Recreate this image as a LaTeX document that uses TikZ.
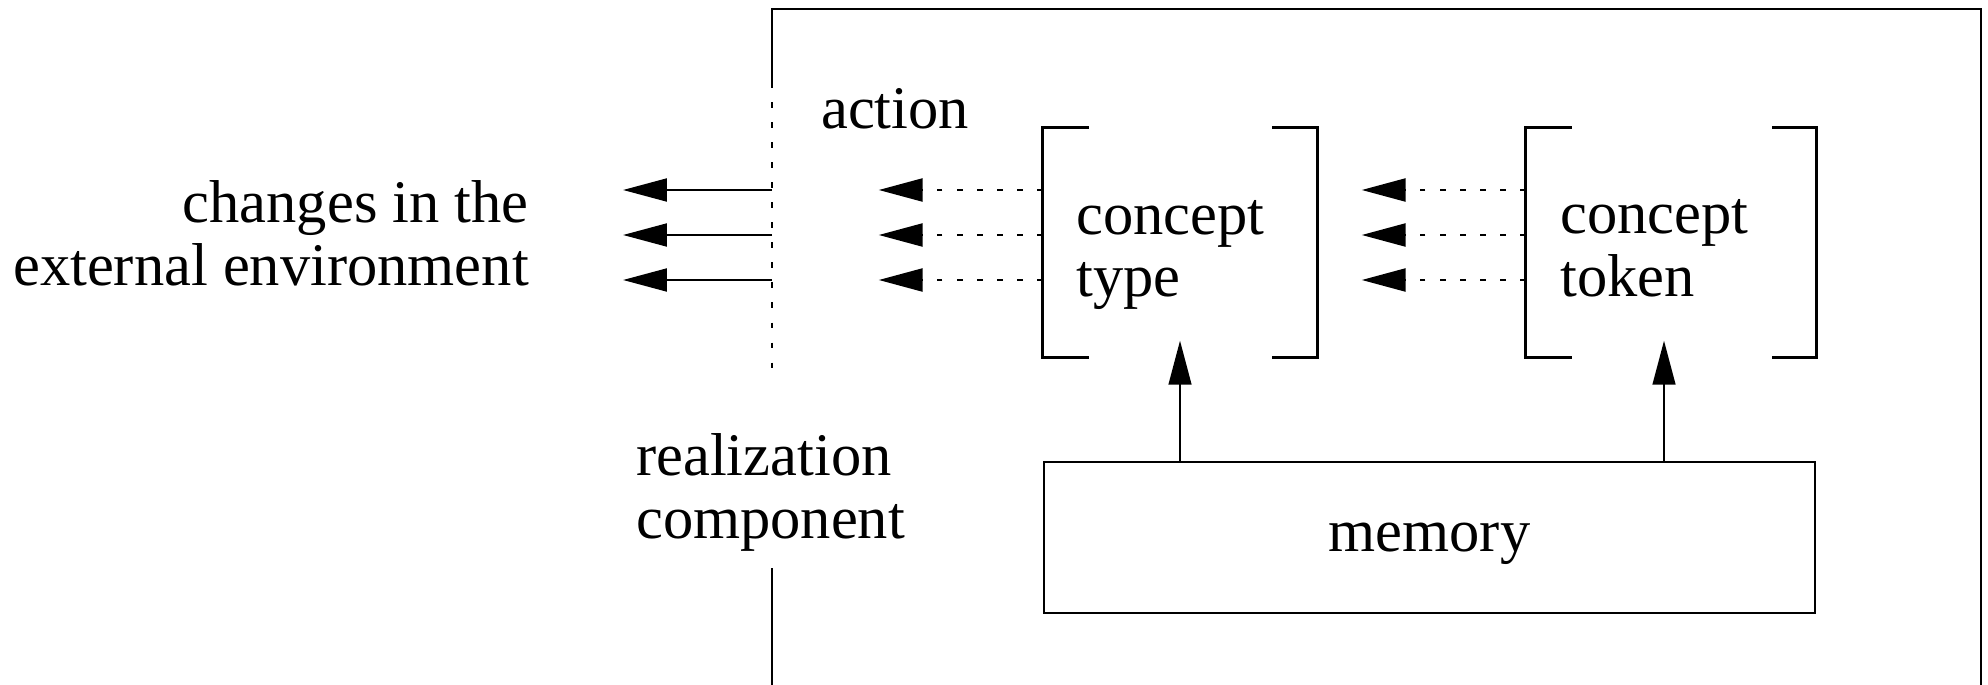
\documentclass[tikz,border=0pt]{standalone}
\usepackage{fontspec}
\setmainfont{Liberation Serif}
\usetikzlibrary{arrows.meta}

\tikzset{
  lbl/.style={inner sep=0pt, font=\fontsize{17.2}{17.8}\selectfont, align=left},
  bigarrow/.style={-{Triangle[length=12.5pt,width=6.5pt]}},
  dots/.style={dash pattern=on 1.6pt off 4.1pt},
  brk/.style={minimum width=#1, minimum height=2.27cm, inner sep=0pt},
}

\begin{document}
\begin{tikzpicture}[x=0.01cm,y=-0.01cm,line width=0.7pt]
\useasboundingbox (0,0) rectangle (1988,685);
\coordinate (wall) at (772,9);
\draw (772,82) -- (wall) -- (1981,9) -- (1981,685);
\draw[dots] (772,82) -- (772,377);
\draw (772,568) -- (772,685);
\node[brk=2.72cm] (typebox) at (1180,242.5) {};
\node[brk=2.88cm] (tokenbox) at (1671,242.5) {};
\draw ([xshift=0.46cm]typebox.north west) -| (typebox.south west) -- ++(46,0);
\draw ([xshift=-0.45cm]typebox.north east) -| (typebox.south east) -- ++(-45,0);
\draw ([xshift=0.46cm]tokenbox.north west) -| (tokenbox.south west) -- ++(46,0);
\draw ([xshift=-0.44cm]tokenbox.north east) -| (tokenbox.south east) -- ++(-44,0);
\node[lbl, align=right, anchor=base east] (changes) at (530,285) {changes in the\\external environment};
\node[lbl, anchor=base west] (action) at (820,129) {action};
\node[lbl, anchor=base west] (ctype) at (1075,297) {concept\\type};
\node[lbl, anchor=base west] (ctoken) at (1559,296) {concept\\token};
\node[lbl, anchor=base west] (realiz) at (635,538) {realization\\component};
\node[draw, lbl, text depth=0pt, minimum width=7.71cm, minimum height=1.51cm] (memory) at (1429.5,537.5) {memory};
\foreach \y in {190,235,280} {
  \draw[bigarrow, line width=0.7pt] (wall |- 0,\y) -- ++(-149,0);
  \draw[bigarrow, dots, line width=0.8pt] (typebox.west |- 0,\y) -- ++(-164,0);
  \draw[bigarrow, dots, line width=0.8pt] (tokenbox.west |- 0,\y) -- ++(-164,0);
}
\draw[bigarrow, line width=0.5pt] (memory.north -| typebox.center) -- ++(0,-120);
\draw[bigarrow, line width=0.5pt] (memory.north -| 1664,0) -- ++(0,-120);
\end{tikzpicture}
\end{document}
